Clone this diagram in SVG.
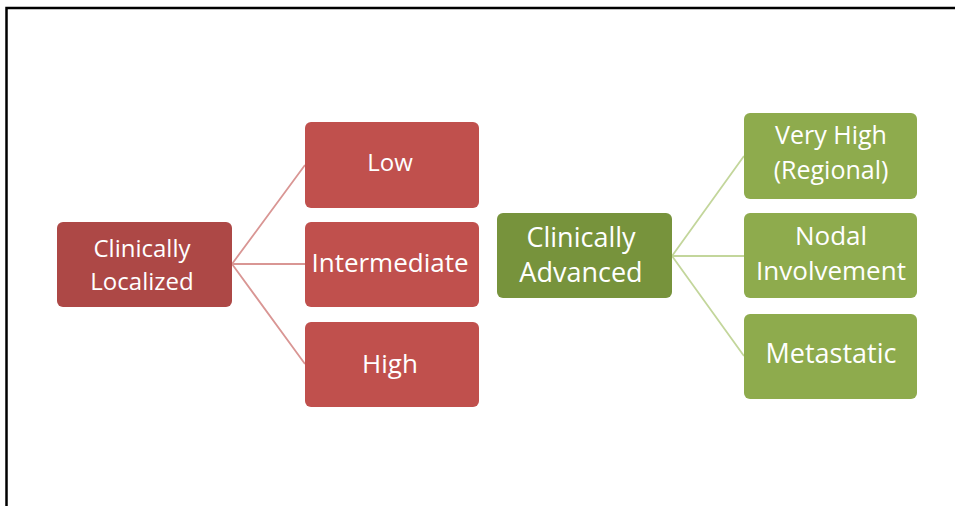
<svg xmlns="http://www.w3.org/2000/svg" width="955" height="506" viewBox="0 0 955 506">
  <style>
    .frame { fill: none; stroke: #000; stroke-width: 2.5; }
    .red-root { fill: #ad4846; }
    .red-leaf { fill: #c0504d; }
    .green-root { fill: #77933c; }
    .green-leaf { fill: #8eab4d; }
    .lbl { fill: #fff; font-family: "Open Sans", "Liberation Sans", sans-serif; text-anchor: middle; }
    .s24 { font-size: 24px; }
    .s25 { font-size: 25px; }
    .s26 { font-size: 26px; }
    .s27 { font-size: 27px; }
    .red-link { stroke: #d99694; stroke-width: 1.8; fill: none; }
    .green-link { stroke: #c3d69b; stroke-width: 1.8; fill: none; }
  </style>

  <rect width="955" height="506" fill="#fff"/>
  <!-- outer frame: top and left edges -->
  <path class="frame" d="M6.5 520 V8 H960"/>

  <g id="connectors">
    <path class="red-link" d="M232 264 L305 165 M232 264 L305 264 M232 264 L305 364"/>
    <path class="green-link" d="M672 256 L744 156 M672 256 L744 256 M672 256 L744 356"/>
  </g>

  <g id="clinically-localized">
    <rect class="red-root" x="57" y="222" width="175" height="85" rx="6"/>
    <text class="lbl s24" x="142" y="257">Clinically</text>
    <text class="lbl s24" x="142" y="290">Localized</text>
  </g>
  <g id="low">
    <rect class="red-leaf" x="305" y="122" width="174" height="86" rx="6"/>
    <text class="lbl s24" x="390" y="171">Low</text>
  </g>
  <g id="intermediate">
    <rect class="red-leaf" x="305" y="222" width="174" height="85" rx="6"/>
    <text class="lbl s26" x="390" y="272">Intermediate</text>
  </g>
  <g id="high">
    <rect class="red-leaf" x="305" y="322" width="174" height="85" rx="6"/>
    <text class="lbl s26" x="390" y="373">High</text>
  </g>

  <g id="clinically-advanced">
    <rect class="green-root" x="497" y="213" width="175" height="85" rx="6"/>
    <text class="lbl s27" x="581" y="247">Clinically</text>
    <text class="lbl s27" x="581" y="282">Advanced</text>
  </g>
  <g id="very-high">
    <rect class="green-leaf" x="744" y="113" width="173" height="86" rx="6"/>
    <text class="lbl s25" x="831" y="144">Very High</text>
    <text class="lbl s25" x="831" y="179">(Regional)</text>
  </g>
  <g id="nodal-involvement">
    <rect class="green-leaf" x="744" y="213" width="173" height="85" rx="6"/>
    <text class="lbl s26" x="831" y="245">Nodal</text>
    <text class="lbl s26" x="831" y="280">Involvement</text>
  </g>
  <g id="metastatic">
    <rect class="green-leaf" x="744" y="314" width="173" height="85" rx="6"/>
    <text class="lbl s27" x="831" y="363">Metastatic</text>
  </g>
</svg>
